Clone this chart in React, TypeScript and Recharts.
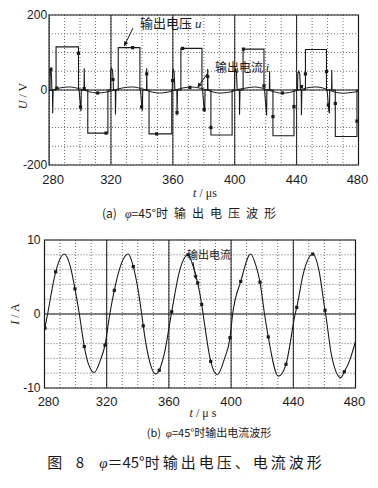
import React from 'react';
import {
  ComposedChart,
  Line,
  Scatter,
  XAxis,
  YAxis,
  CartesianGrid,
  ReferenceLine,
  ReferenceArea,
  ReferenceDot,
} from 'recharts';

// ---------- data ----------
const timeTicks = [280, 290, 300, 310, 320, 330, 340, 350, 360, 370, 380, 390, 400, 410, 420, 430, 440, 450, 460, 470, 480];
const labeledTimes = [280, 320, 360, 400, 440, 480];
const majorTimes = [320, 360, 400, 440];
const voltageTicks = [-200, -150, -100, -50, 0, 50, 100, 150, 200];
const labeledVoltages = [-200, 0, 200];
const currentTicks = [-10, -8, -6, -4, -2, 0, 2, 4, 6, 8, 10];
const labeledCurrents = [-10, 0, 10];

// output voltage u (V) : [t (us), u]
const voltagePoints: number[][] = [
  [280, 0], [280.6, 0], [280.7, 55], [281.2, 58], [281.6, 30], [281.8, 0],
  [282.2, 0], [282.3, -62], [282.6, 0],
  [284.5, 0], [284.5, 115], [299, 115], [299, 0],
  [299.4, 0], [300.3, -48], [300.6, -56], [300.8, 0],
  [302.6, 0], [302.7, 58], [302.9, 0],
  [305, 0], [305, -115], [318, -115], [318, 0],
  [319.6, 0], [319.8, 50], [320.4, 58], [321, 52], [321.4, 25], [321.6, 0],
  [322.8, 0], [322.9, -65], [323.2, 0],
  [324.7, 0], [324.7, 113], [338.7, 113], [338.7, 0],
  [339.1, 0], [340, -50], [340.3, -55], [340.5, 0],
  [343, 0], [343.1, 58], [343.3, 0],
  [344.6, 0], [344.6, -117], [359.3, -117], [359.3, 0],
  [359.6, 0], [359.8, 50], [360.3, 55], [360.8, 48], [361.1, 22], [361.3, 0],
  [362.6, 0], [362.7, -68], [363, 0],
  [365.2, 0], [365.2, 111], [378.8, 111], [378.8, 0],
  [379.2, 0], [380.2, -52], [380.6, -58], [380.8, 0],
  [382.4, 0], [382.5, 56], [382.7, 0],
  [384.6, 0], [384.6, -120], [398.3, -120], [398.3, 0],
  [399.8, 0], [400, 52], [400.6, 56], [401.1, 48], [401.4, 20], [401.6, 0],
  [403, 0], [403.1, -66], [403.4, 0],
  [405.4, 0], [405.4, 109], [418.9, 109], [418.9, 0],
  [419.3, 0], [420.3, -55], [420.6, -68], [420.8, 0],
  [422.4, 0], [422.5, 50], [422.7, 0],
  [424.7, 0], [424.7, -122], [438.3, -122], [438.3, 0],
  [440.6, 0], [440.8, 45], [441.4, 50], [442, 44], [442.3, 20], [442.5, 0],
  [443, 0], [443.1, -67], [443.4, 0],
  [445.7, 0], [445.7, 108], [459.3, 108], [459.3, 0],
  [459.7, 0], [460.8, -55], [461.2, -62], [461.4, 0],
  [462.6, 0], [462.7, 53], [462.9, 0],
  [465, 0], [465, -124], [479, -124], [479, 0], [480, 0],
];

// sample markers on plot (a) : [t, value]
const voltageMarkers: number[][] = [
  [281.2, 55], [285, 5], [299, 98], [300.3, -45], [302.7, 4], [311.4, -8],
  [316.8, -115], [321.3, 28], [334, 113], [339.8, -45], [343.1, 43], [349.5, -117],
  [359.8, 25], [362.7, -60], [366.3, 111], [371, 7], [380.2, -52], [382.5, 36],
  [384.6, -100], [405.6, 109], [418.9, 11], [424.7, -71], [430.8, -8], [438.3, -44],
  [443.1, 9], [445.7, 43], [459.3, 49], [460.5, -40], [465, -36], [479, -83],
];

// output current i (A) : [t, i, marker]
const currentPoints: number[][] = [
  [280, -2.3], [280.3, -1.9, 1], [282, 0], [287.2, 5.7, 1], [292.7, 8.1], [296.5, 6.5],
  [299.6, 3.4, 1], [302.4, 0], [305.6, -4.4, 1], [308, -6.6], [312, -7.9], [316, -6.2],
  [318.9, -4.2, 1], [322, 0], [324.9, 3.2, 1], [328, 5.9], [333.9, 8.1], [337.1, 6.4, 1],
  [342.5, 0], [343.5, -1.6, 1], [347, -5.9], [351.5, -8.1], [353.8, -7.6, 1], [357, -5.4],
  [361.8, 0.3, 1], [366.7, 5.7], [372.3, 8, 1], [375.5, 6.5], [378.5, 4.2, 1], [381.1, 1.3, 1],
  [382, 0], [386.9, -6.4, 1], [391.1, -8.2], [395.8, -6.0], [399.3, -3.2, 1], [401, 0],
  [406.2, 4.4, 1], [412.6, 8.1], [416, 6.5], [418.6, 4.3, 1], [421.5, 0], [423.9, -3.1, 1],
  [430.4, -8.4], [435.3, -6.8, 1], [441.2, 0], [442.2, 0.9, 1], [446.5, 5.5], [452.5, 8.1, 1],
  [456.5, 5.9], [460.4, 0.5, 1], [460.8, 0], [464.5, -5.5], [470.5, -8.6], [472.8, -7.8, 1],
  [476, -6.4], [480, -3.7],
];

const voltageData = voltagePoints.map(([t, v]) => ({ t, v }));
const voltageMarkerData = voltageMarkers.map(([t, v]) => ({ t, v }));
const currentData = currentPoints.map(([t, i, m]) => ({ t, i, m: !!m }));

// ---------- styling helpers ----------
const INK = '#1a1a1a';
const GRID = '#5a5a5a';
const TICK_FONT = '"Liberation Sans", Arial, sans-serif';
const CJK_FONT = '"Noto Sans CJK SC", "Noto Sans", sans-serif';
const SERIF = '"Liberation Serif", "DejaVu Serif", serif';

const makeTimeTick = (fontSize: number) => (props: any) => {
  const { x, y, payload } = props;
  if (!labeledTimes.includes(payload.value)) return <g />;
  const shift = payload.value === 280 ? 4 : payload.value === 480 ? -1 : 0;
  return (
    <text x={x + shift} y={y} dy="0.71em" textAnchor="middle" fontSize={fontSize} fill={INK} fontFamily={TICK_FONT}>
      {payload.value}
    </text>
  );
};

const makeValueTick = (labels: number[]) => (props: any) => {
  const { x, y, payload } = props;
  if (!labels.includes(payload.value)) return <g />;
  return (
    <text x={x} y={y} dy="0.355em" textAnchor="end" fontSize={12} fill={INK} fontFamily={TICK_FONT}>
      {payload.value}
    </text>
  );
};

const Arrow = (props: any) => {
  const { x1, y1, x2, y2 } = props;
  const ang = Math.atan2(y2 - y1, x2 - x1);
  const L = 5;
  const W = 2.2;
  const bx = x2 - L * Math.cos(ang);
  const by = y2 - L * Math.sin(ang);
  const px = -Math.sin(ang) * W;
  const py = Math.cos(ang) * W;
  return (
    <g>
      <line x1={x1} y1={y1} x2={bx} y2={by} stroke={INK} strokeWidth={1} />
      <polygon points={`${x2},${y2} ${bx + px},${by + py} ${bx - px},${by - py}`} fill={INK} />
    </g>
  );
};

const makeLabel = (text: React.ReactNode, fontSize: number) => (props: any) => (
  <text x={props.cx} y={props.cy} dy="0.35em" textAnchor="start" fontSize={fontSize} fill={INK} fontFamily={CJK_FONT}>
    {text}
  </text>
);

const squareDot = (p: any) => (
  <rect key={`s${p.index}-${p.cx}`} x={p.cx - 1.6} y={p.cy - 1.6} width={3.2} height={3.2} fill={INK} />
);

const flaggedDot = (p: any) =>
  p.payload && p.payload.m ? (
    <rect key={`d${p.index}`} x={p.cx - 1.6} y={p.cy - 1.6} width={3.2} height={3.2} fill={INK} />
  ) : (
    <g key={`d${p.index}`} />
  );

const abs = (left: number, top: number, extra: React.CSSProperties = {}): React.CSSProperties => ({
  position: 'absolute',
  left,
  top,
  transform: 'translate(-50%, -50%)',
  whiteSpace: 'nowrap',
  color: INK,
  lineHeight: 1,
  ...extra,
});

export default function App() {
  return (
    <div style={{ position: 'absolute', left: 0, top: 0, width: 378, height: 488, background: '#fff', overflow: 'hidden' }}>
      {/* (a) voltage */}
      <div style={{ position: 'absolute', left: 0, top: 0 }}>
        <ComposedChart width={378} height={200} margin={{ top: 15, right: 19.5, left: 0, bottom: 15 }}>
          <CartesianGrid stroke={GRID} strokeDasharray="1 2" strokeWidth={0.9} />
          <XAxis
            type="number"
            dataKey="t"
            domain={[280, 480]}
            ticks={timeTicks}
            interval={0}
            tickLine={false}
            axisLine={false}
            tickSize={0}
            tickMargin={10}
            height={20}
            tick={makeTimeTick(13)}
            allowDataOverflow
          />
          <YAxis
            type="number"
            domain={[-200, 200]}
            ticks={voltageTicks}
            interval={0}
            tickLine={false}
            axisLine={false}
            tickSize={0}
            tickMargin={2}
            width={49.1}
            tick={makeValueTick(labeledVoltages)}
            allowDataOverflow
          />
          {majorTimes.map((t) => (
            <ReferenceLine key={t} x={t} stroke={INK} strokeWidth={1} />
          ))}
          <ReferenceLine y={0} stroke={INK} strokeWidth={1} />
          <ReferenceArea x1={280} x2={480} y1={-200} y2={200} fill="none" fillOpacity={0} stroke={INK} strokeWidth={1.2} />
          <Line data={currentData} dataKey="i" type="monotone" stroke={INK} strokeWidth={1} dot={false} isAnimationActive={false} />
          <Line data={voltageData} dataKey="v" type="linear" stroke={INK} strokeWidth={1.1} dot={false} isAnimationActive={false} />
          <Scatter data={voltageMarkerData} dataKey="v" shape={squareDot} isAnimationActive={false} />
          <ReferenceLine segment={[{ x: 334.2, y: 165 }, { x: 328.4, y: 116 }]} shape={Arrow} />
          <ReferenceDot x={338.8} y={178} shape={makeLabel(<>输出电压 <tspan fontFamily={SERIF} fontStyle="italic">u</tspan></>, 13)} />
          <ReferenceLine segment={[{ x: 382.7, y: 46 }, { x: 375.8, y: 6 }]} shape={Arrow} />
          <ReferenceDot x={387.2} y={58} shape={makeLabel(<>输出电流 <tspan fontFamily={SERIF} fontStyle="italic">i</tspan></>, 12)} />
        </ComposedChart>
      </div>

      {/* (b) current */}
      <div style={{ position: 'absolute', left: 0, top: 220 }}>
        <ComposedChart width={378} height={190} margin={{ top: 20, right: 22.5, left: 0, bottom: 2 }}>
          <CartesianGrid stroke={GRID} strokeDasharray="1 2" strokeWidth={0.9} />
          <XAxis
            type="number"
            dataKey="t"
            domain={[280, 480]}
            ticks={timeTicks}
            interval={0}
            tickLine={false}
            axisLine={false}
            tickSize={0}
            tickMargin={9}
            height={20}
            tick={makeTimeTick(13)}
            allowDataOverflow
          />
          <YAxis
            type="number"
            domain={[-10, 10]}
            ticks={currentTicks}
            interval={0}
            tickLine={false}
            axisLine={false}
            tickSize={0}
            tickMargin={4}
            width={44.5}
            tick={makeValueTick(labeledCurrents)}
            allowDataOverflow
          />
          {majorTimes.map((t) => (
            <ReferenceLine key={t} x={t} stroke={INK} strokeWidth={1} />
          ))}
          <ReferenceLine y={0} stroke={INK} strokeWidth={1} />
          <ReferenceArea x1={280} x2={480} y1={-10} y2={10} fill="none" fillOpacity={0} stroke={INK} strokeWidth={1.2} />
          <Line data={currentData} dataKey="i" type="monotone" stroke={INK} strokeWidth={1.1} dot={flaggedDot} isAnimationActive={false} />
          <ReferenceLine segment={[{ x: 375.5, y: 7 }, { x: 377.6, y: 4.6 }]} shape={Arrow} />
          <ReferenceDot x={371.6} y={8} shape={makeLabel('输出电流', 11)} />
        </ComposedChart>
      </div>

      {/* axis titles */}
      <div style={abs(23, 96, { transform: 'translate(-50%, -50%) rotate(-90deg)', fontFamily: SERIF, fontSize: 12 })}>
        <i>U</i> / V
      </div>
      <div style={abs(205, 193, { fontFamily: SERIF, fontSize: 12 })}>
        <i>t</i> / μs
      </div>
      <div style={abs(15, 314, { transform: 'translate(-50%, -50%) rotate(-90deg)', fontFamily: SERIF, fontSize: 12 })}>
        <i>I</i> / A
      </div>
      <div style={abs(203, 413, { fontFamily: SERIF, fontSize: 12 })}>
        <i>t</i> / μ s
      </div>

      {/* captions */}
      <div style={abs(192, 213, { fontFamily: CJK_FONT, fontSize: 12 })}>
        (a)&nbsp;&nbsp;&nbsp;<i style={{ fontFamily: SERIF }}>φ</i>=45°<span style={{ letterSpacing: 6 }}>时输出电压波形</span>
      </div>
      <div style={abs(209, 433, { fontFamily: CJK_FONT, fontSize: 11 })}>
        (b)&nbsp;&nbsp;<i style={{ fontFamily: SERIF }}>φ</i>=45°时输出电流波形
      </div>
      <div style={abs(186, 462, { fontFamily: CJK_FONT, fontSize: 15 })}>
        <span style={{ letterSpacing: 5 }}>图 8</span>&nbsp;&nbsp;&nbsp;<i style={{ fontFamily: SERIF }}>φ</i>＝45°
        <span style={{ letterSpacing: 3 }}>时输出电压、电流波形</span>
      </div>
    </div>
  );
}
